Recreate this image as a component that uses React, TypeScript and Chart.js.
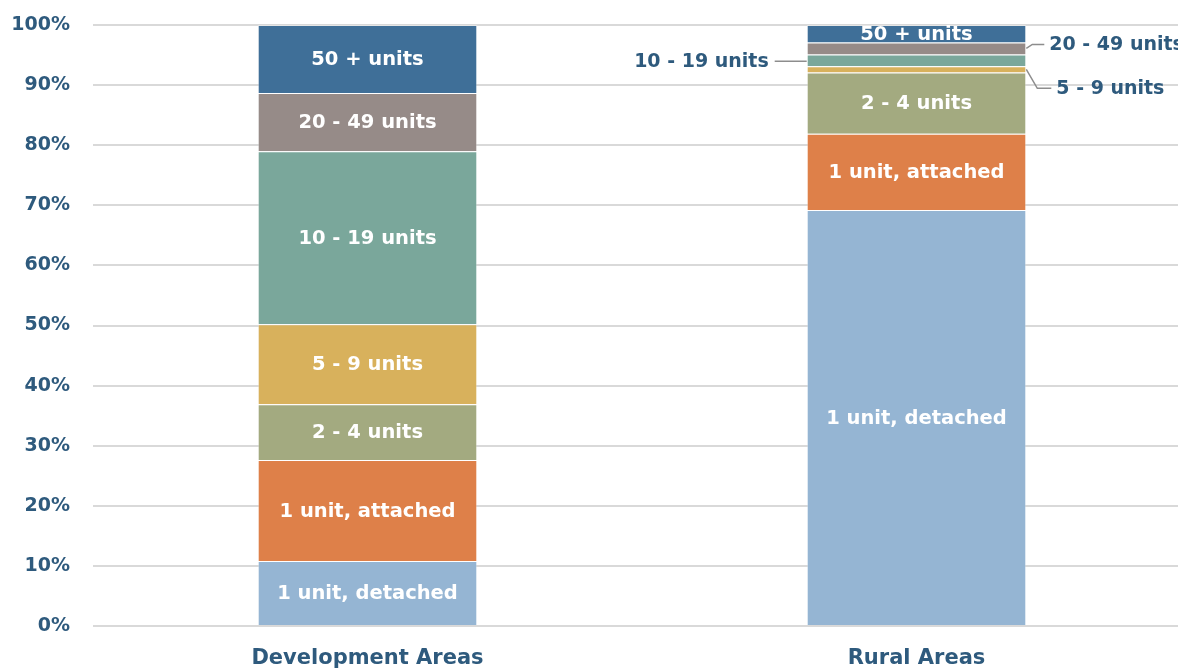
import React, { useEffect, useRef } from "react";
import { Chart, registerables } from "chart.js";

Chart.register(...registerables);

const categories = ["Development Areas", "Rural Areas"];
const seriesNames = [
  "1 unit, detached",
  "1 unit, attached",
  "2 - 4 units",
  "5 - 9 units",
  "10 - 19 units",
  "20 - 49 units",
  "50 + units",
];
const detached = [10.8, 69.2];
const attached = [16.8, 12.7];
const units2to4 = [9.3, 10.2];
const units5to9 = [13.3, 1.05];
const units10to19 = [28.8, 1.95];
const units20to49 = [9.7, 2.0];
const units50plus = [11.3, 2.9];
const seriesValues = [detached, attached, units2to4, units5to9, units10to19, units20to49, units50plus];
const seriesColors = ["#95b5d3", "#de8049", "#a3aa80", "#d8b15c", "#7aa79b", "#968b88", "#3f6f98"];
const yTicks = [0, 10, 20, 30, 40, 50, 60, 70, 80, 90, 100];

const FONT = "'DejaVu Sans', sans-serif";
const TEXT_BLUE = "#2e5a7d";

// outside label placements (category index 1 = Rural Areas)
const outside: Record<string, { side: "left" | "right"; dx: number; dy: number; elbow: number[] }> = {
  "4-1": { side: "left", dx: 38, dy: 1, elbow: [] },
  "5-1": { side: "right", dx: 23, dy: -4, elbow: [6, -4] },
  "3-1": { side: "right", dx: 30, dy: 19, elbow: [11, 19] },
};

const labelPlugin = {
  id: "segLabels",
  afterDatasetsDraw(chart: any) {
    const ctx = chart.ctx;
    ctx.save();
    ctx.textBaseline = "middle";
    chart.data.datasets.forEach((ds: any, i: number) => {
      const meta = chart.getDatasetMeta(i);
      meta.data.forEach((bar: any, j: number) => {
        const p = bar.getProps(["x", "y", "base", "width"], true);
        const cy = (p.y + p.base) / 2;
        const left = p.x - p.width / 2;
        const right = p.x + p.width / 2;
        const key = `${i}-${j}`;
        const o = outside[key];
        if (o) {
          ctx.font = `bold 19px ${FONT}`;
          ctx.strokeStyle = "#8d8d8d";
          ctx.lineWidth = 1.5;
          ctx.fillStyle = TEXT_BLUE;
          ctx.beginPath();
          if (o.side === "left") {
            ctx.moveTo(left, cy + o.dy);
            ctx.lineTo(left - o.dx + 6, cy + o.dy);
            ctx.stroke();
            ctx.textAlign = "right";
            ctx.fillText(ds.label, left - o.dx, cy + o.dy + 1);
          } else {
            ctx.moveTo(right, cy);
            ctx.lineTo(right + o.elbow[0], cy + o.elbow[1]);
            ctx.lineTo(right + o.dx - 5, cy + o.dy);
            ctx.stroke();
            ctx.textAlign = "left";
            ctx.fillText(ds.label, right + o.dx, cy + o.dy + 1);
          }
        } else {
          ctx.font = `bold 19.5px ${FONT}`;
          ctx.fillStyle = "#ffffff";
          ctx.textAlign = "center";
          ctx.fillText(ds.label, p.x, cy + 1);
        }
      });
    });
    ctx.restore();
  },
};

export default function App() {
  const ref = useRef<HTMLCanvasElement>(null);
  useEffect(() => {
    if (!ref.current) return;
    const chart = new Chart(ref.current, {
      type: "bar",
      data: {
        labels: categories,
        datasets: seriesNames.map((name, i) => ({
          label: name,
          data: seriesValues[i],
          backgroundColor: seriesColors[i],
          borderColor: "rgba(255,255,255,0.35)",
          borderWidth: 1,
          categoryPercentage: 1,
          barPercentage: 0.4,
        })),
      },
      options: {
        responsive: false,
        animation: false,
        layout: { autoPadding: false, padding: { top: 25, right: 0, left: 0, bottom: 0 } },
        plugins: { legend: { display: false }, tooltip: { enabled: false } },
        scales: {
          x: {
            stacked: true,
            grid: { display: false, drawTicks: false },
            border: { display: false },
            afterFit(scale: any) {
              scale.height = 43;
            },
            ticks: { color: TEXT_BLUE, font: { family: FONT, size: 21, weight: "bold" }, padding: 20 },
          },
          y: {
            stacked: true,
            min: 0,
            max: 100,
            afterBuildTicks(scale: any) {
              scale.ticks = yTicks.map((v) => ({ value: v }));
            },
            afterFit(scale: any) {
              scale.width = 93;
              scale.paddingTop = 0;
              scale.paddingBottom = 0;
            },
            grid: { color: "#d9d9d9", lineWidth: 2, drawTicks: false },
            border: { display: false },
            ticks: {
              color: TEXT_BLUE,
              font: { family: FONT, size: 19, weight: "bold" },
              padding: 23,
              callback: (v: any) => `${v}%`,
            },
          },
        },
      },
      plugins: [labelPlugin],
    });
    return () => chart.destroy();
  }, []);
  return (
    <canvas
      ref={ref}
      width={1191}
      height={669}
      style={{ position: "fixed", left: 0, top: 0, width: 1191, height: 669 }}
    />
  );
}
